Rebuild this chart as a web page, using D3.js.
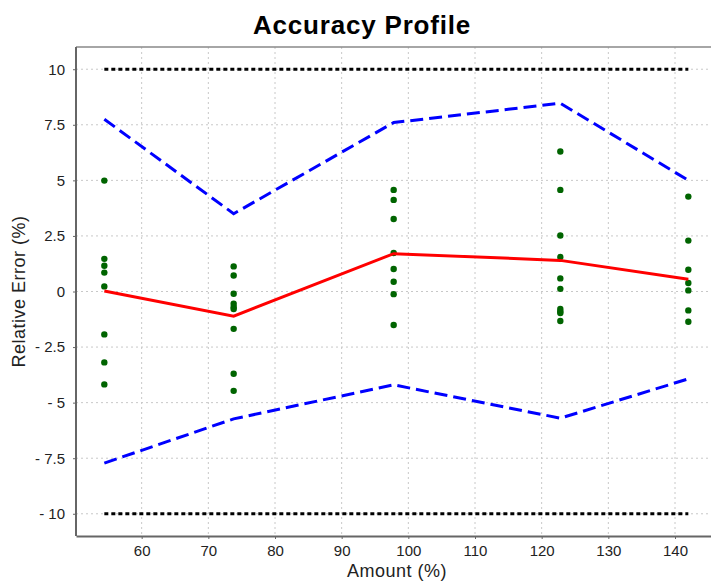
<!DOCTYPE html>
<html>
<head>
<meta charset="utf-8">
<script src="https://cdn.jsdelivr.net/npm/d3@7"></script>
<style>
  body { margin: 0; background: #fff; }
  svg { display: block; font-family: "Liberation Sans", Arial, sans-serif; }
  .grid line { stroke: #c8c8c8; stroke-dasharray: 2,3; stroke-width: 1; }
  .axis path, .axis line { stroke: #666; }
  .axis text { fill: #222; font-size: 15px; }
</style>
</head>
<body>
<script>
// nominal amount levels (%)
const amounts = [54.4, 73.8, 97.8, 122.8, 142.0];
// individual relative errors per level
const relErrors = [
    [4.99, 1.47, 1.16, 0.85, 0.23, -1.93, -3.19, -4.18],
    [1.13, 0.72, -0.10, -0.55, -0.70, -0.79, -1.68, -3.70, -4.47],
    [4.57, 4.12, 3.26, 1.73, 1.01, 0.44, -0.12, -1.51],
    [6.30, 4.57, 2.52, 1.55, 0.59, 0.12, -0.79, -0.90, -0.97, -1.33],
    [4.27, 2.29, 0.98, 0.38, 0.05, -0.85, -1.36]
];
const meanBias = [0.02, -1.11, 1.70, 1.40, 0.55];
const upperTol = [7.75, 3.50, 7.60, 8.47, 5.00];
const lowerTol = [-7.72, -5.73, -4.20, -5.70, -3.93];
const acceptLimits = [10, -10];

const xTicks = [60, 70, 80, 90, 100, 110, 120, 130, 140];
const yTicks = [-10, -7.5, -5, -2.5, 0, 2.5, 5, 7.5, 10];

const W = 711, H = 582;
const pLeft = 76, pRight = 711, pTop = 47, pBottom = 536;

const svg = d3.select('body').append('svg')
    .attr('width', W)
    .attr('height', H);

const x = d3.scaleLinear().domain([50.15, 145.4]).range([pLeft, pRight]);
const y = d3.scaleLinear().domain([-11, 11]).range([pBottom, pTop]);

// grid
const grid = svg.append('g').attr('class', 'grid');
grid.selectAll('line.v').data(xTicks).enter()
    .append('line').attr('class', 'v')
    .attr('x1', d => x(d)).attr('x2', d => x(d))
    .attr('y1', pTop).attr('y2', pBottom);
grid.selectAll('line.h').data(yTicks).enter()
    .append('line').attr('class', 'h')
    .attr('x1', pLeft).attr('x2', pRight)
    .attr('y1', d => y(d)).attr('y2', d => y(d));

// top border
svg.append('line')
    .attr('x1', pLeft).attr('x2', pRight)
    .attr('y1', pTop).attr('y2', pTop)
    .attr('stroke', '#888').attr('stroke-width', 1.5);

// axes
const fmtY = d => d < 0 ? '- ' + Math.abs(d) : String(d);
const yAxis = svg.append('g').attr('class', 'axis')
    .attr('transform', `translate(${pLeft},0)`)
    .call(d3.axisLeft(y).tickValues(yTicks).tickFormat(fmtY).tickSize(3).tickPadding(8).tickSizeOuter(0));
yAxis.select('.domain').attr('stroke-width', 2).attr('d', `M0,${pTop}V${pBottom}`);

const xAxis = svg.append('g').attr('class', 'axis')
    .attr('transform', `translate(0,${pBottom})`)
    .call(d3.axisBottom(x).tickValues(xTicks).tickFormat(d3.format('d')).tickSize(3).tickPadding(6).tickSizeOuter(0));
xAxis.select('.domain').attr('stroke-width', 2);

// acceptance limits
acceptLimits.forEach(v => {
    svg.append('path')
        .datum(amounts)
        .attr('fill', 'none')
        .attr('stroke', '#000')
        .attr('stroke-width', 3)
        .attr('stroke-dasharray', '4,3')
        .attr('d', d3.line().x(d => x(d)).y(() => y(v)));
});

// tolerance intervals
const profLine = d3.line().x((d, i) => x(amounts[i])).y(d => y(d));
[upperTol, lowerTol].forEach(s => {
    svg.append('path')
        .datum(s)
        .attr('fill', 'none')
        .attr('stroke', '#0000ff')
        .attr('stroke-width', 3)
        .attr('stroke-dasharray', '13,6')
        .attr('d', profLine);
});

// points
const pts = [];
relErrors.forEach((arr, i) => arr.forEach(v => pts.push({ a: amounts[i], v: v })));
svg.append('g').selectAll('circle').data(pts).enter()
    .append('circle')
    .attr('cx', d => x(d.a))
    .attr('cy', d => y(d.v))
    .attr('r', 3.2)
    .attr('fill', '#006400');

// mean bias
svg.append('path')
    .datum(meanBias)
    .attr('fill', 'none')
    .attr('stroke', '#ff0000')
    .attr('stroke-width', 3)
    .attr('d', profLine);

// title & labels
svg.append('text')
    .attr('x', 362).attr('y', 34)
    .attr('text-anchor', 'middle')
    .style('font-size', '26px').style('font-weight', 'bold')
    .style('letter-spacing', '0.8px')
    .text('Accuracy Profile');

svg.append('text')
    .attr('x', 397).attr('y', 577)
    .attr('text-anchor', 'middle')
    .style('font-size', '18px')
    .style('letter-spacing', '0.5px')
    .style('fill', '#222')
    .text('Amount (%)');

svg.append('text')
    .attr('transform', `translate(25,${(pTop + pBottom) / 2}) rotate(-90)`)
    .attr('text-anchor', 'middle')
    .style('font-size', '18px')
    .style('letter-spacing', '0.5px')
    .style('fill', '#222')
    .text('Relative Error (%)');
</script>
</body>
</html>
